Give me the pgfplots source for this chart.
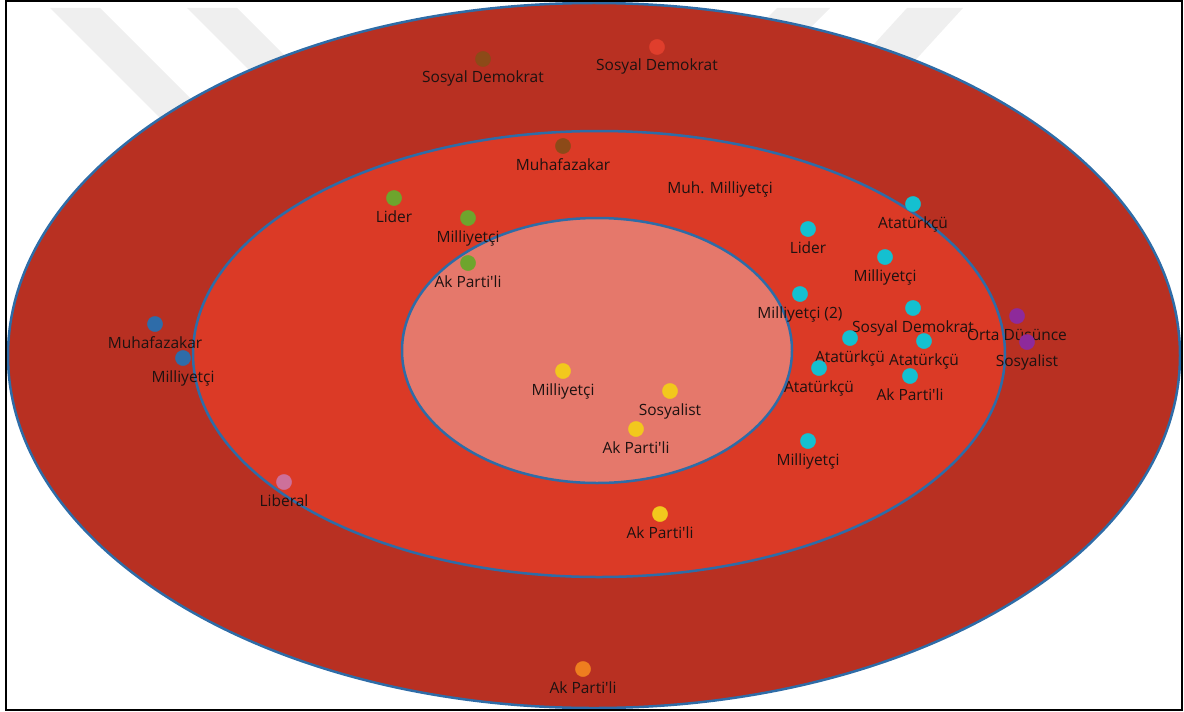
\documentclass[border=0pt]{standalone}
\usepackage{pgfplots}
\pgfplotsset{compat=1.18}
\usepackage{pgfplotstable}
\usepackage{fontspec}
\setmainfont{Open Sans}[Ligatures=TeXOff]

\definecolor{outerred}{HTML}{B83022}
\definecolor{midred}{HTML}{DB3A26}
\definecolor{innerred}{HTML}{E5786B}
\definecolor{edgeblue}{HTML}{2E6CA7}
\definecolor{cbrown}{HTML}{8C4A18}
\definecolor{cred}{HTML}{E03E2C}
\definecolor{cgreen}{HTML}{6EA52D}
\definecolor{cblue}{HTML}{2E6CA9}
\definecolor{cpink}{HTML}{CD709A}
\definecolor{cyellow}{HTML}{F2C81D}
\definecolor{corange}{HTML}{EE7E1F}
\definecolor{ccyan}{HTML}{14C0D0}
\definecolor{cpurple}{HTML}{8E2A9B}
\definecolor{wm}{HTML}{EFEFEF}
\definecolor{lbl}{HTML}{1E1211}

\newcommand\lblfont{\fontsize{15.5bp}{18bp}\selectfont}

\pgfplotstableread[col sep=comma]{
x,y,label
483,59,Sosyal Demokrat
563,146,Muhafazakar
}\tbrown
\pgfplotstableread[col sep=comma]{
x,y,label
657,47,Sosyal Demokrat
}\tred
\pgfplotstableread[col sep=comma]{
x,y,label
394,198,Lider
468,218,Milliyetçi
468,263,Ak Parti'li
}\tgreen
\pgfplotstableread[col sep=comma]{
x,y,label
155,324,Muhafazakar
183,358,Milliyetçi
}\tblue
\pgfplotstableread[col sep=comma]{
x,y,label
284,482,Liberal
}\tpink
\pgfplotstableread[col sep=comma]{
x,y,label
563,371,Milliyetçi
670,391,Sosyalist
636,429,Ak Parti'li
660,514,Ak Parti'li
}\tyellow
\pgfplotstableread[col sep=comma]{
x,y,label
583,669,Ak Parti'li
}\torange
\pgfplotstableread[col sep=comma]{
x,y,label
913,204,Atatürkçü
808,229,Lider
885,257,Milliyetçi
800,294,Milliyetçi (2)
913,308,Sosyal Demokrat
850,338,Atatürkçü
924,341,Atatürkçü
819,368,Atatürkçü
910,376,Ak Parti'li
808,441,Milliyetçi
}\tcyan
\pgfplotstableread[col sep=comma]{
x,y,label
1017,316,Orta Düşünce
1027,342,Sosyalist
}\tpurple

\pgfplotsset{
  dotlbl/.style={only marks, color=#1, mark=*, mark size=7.6bp,
    mark options={draw=#1, fill=#1},
    nodes near coords, point meta=explicit symbolic,
    every node near coord/.append style={anchor=base, yshift=-24bp,
      inner sep=0pt, text=lbl, font=\lblfont}}
}

\begin{document}
\begin{tikzpicture}
\begin{axis}[
  width=1184bp, height=711bp, scale only axis,
  xmin=0, xmax=1184, ymin=0, ymax=711, y dir=reverse,
  hide axis, clip=false]
\path (axis cs:0,0) rectangle (axis cs:1184,711);
% watermark stripes
\fill[wm] (axis cs:50,8) -- (axis cs:100,8) -- (axis cs:272,180) -- (axis cs:222,180) -- cycle;
\fill[wm] (axis cs:187,8) -- (axis cs:237,8) -- (axis cs:349,120) -- (axis cs:299,120) -- cycle;
\fill[wm] (axis cs:777,8) -- (axis cs:830,8) -- (axis cs:778,60) -- (axis cs:725,60) -- cycle;
\fill[wm] (axis cs:907,8) -- (axis cs:963,8) -- (axis cs:879,100) -- (axis cs:823,100) -- cycle;
% rings
\draw[fill=outerred, draw=edgeblue, line width=2.5bp] (axis cs:594,355.5) ellipse [x radius=586, y radius=352.5];
\draw[fill=midred, draw=edgeblue, line width=2.5bp] (axis cs:599,354) ellipse [x radius=406, y radius=223];
\draw[fill=innerred, draw=edgeblue, line width=2.5bp] (axis cs:597,350.5) ellipse [x radius=195, y radius=132.5];
% points
\addplot[dotlbl=cbrown] table[x=x,y=y,meta=label]{\tbrown};
\addplot[dotlbl=cred] table[x=x,y=y,meta=label]{\tred};
\addplot[dotlbl=cgreen] table[x=x,y=y,meta=label]{\tgreen};
\addplot[dotlbl=cblue] table[x=x,y=y,meta=label]{\tblue};
\addplot[dotlbl=cpink] table[x=x,y=y,meta=label]{\tpink};
\addplot[dotlbl=cyellow] table[x=x,y=y,meta=label]{\tyellow};
\addplot[dotlbl=corange] table[x=x,y=y,meta=label]{\torange};
\addplot[dotlbl=ccyan] table[x=x,y=y,meta=label]{\tcyan};
\addplot[dotlbl=cpurple] table[x=x,y=y,meta=label]{\tpurple};
\node[anchor=base, inner sep=0pt, text=lbl, font=\lblfont] at (axis cs:720,193) {Muh. Milliyetçi};
% frame
\draw[black, line width=2bp] (axis cs:6,1) rectangle (axis cs:1182,709.5);
\end{axis}
\end{tikzpicture}
\end{document}
